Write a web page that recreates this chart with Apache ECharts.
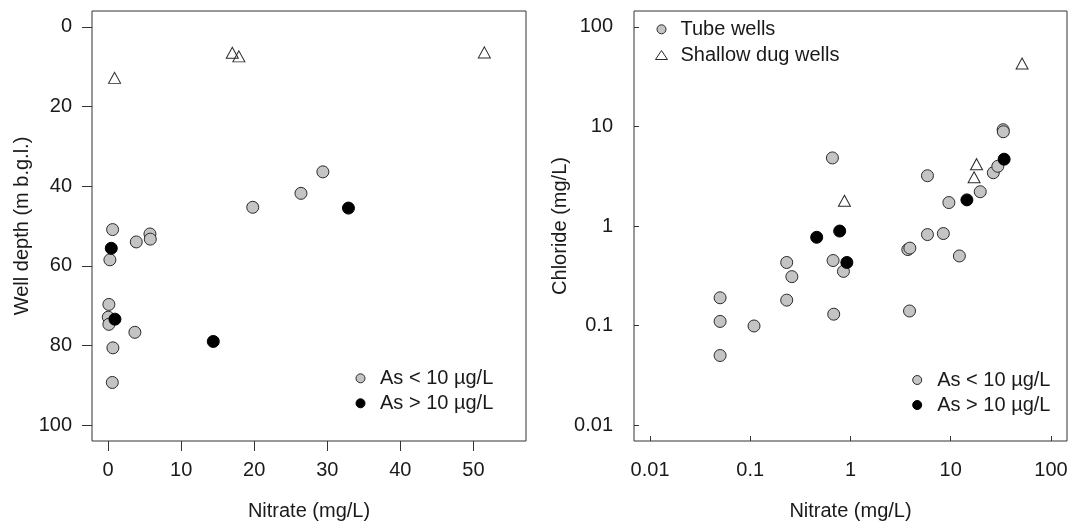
<!DOCTYPE html>
<html>
<head>
<meta charset="utf-8">
<script src="https://cdn.jsdelivr.net/npm/echarts@6/dist/echarts.min.js"></script>
<style>
html,body{margin:0;padding:0;background:#fff;}
#chart{width:1072px;height:523px;}
</style>
</head>
<body>
<div id="chart"></div>
<script>
// ---- Left panel: nitrate vs well depth ----
const leftLowNitrate   = [29.4, 26.4, 19.8, 0.62, 5.73, 5.78, 3.86, 0.25, 0.11, 0.03, 0.11, 3.67, 0.66, 0.58];
const leftLowDepth     = [36.4, 41.8, 45.3, 50.9, 52.0, 53.3, 54.0, 58.5, 69.7, 72.9, 74.7, 76.7, 80.6, 89.3];
const leftHighNitrate  = [32.9, 0.44, 0.94, 14.4];
const leftHighDepth    = [45.5, 55.6, 73.4, 79.0];
const leftDugNitrate   = [0.89, 17.0, 17.9, 51.5];
const leftDugDepth     = [12.8, 6.5, 7.4, 6.4];
const leftXTicks = [0, 10, 20, 30, 40, 50];
const leftYTicks = [0, 20, 40, 60, 80, 100];

// ---- Right panel: nitrate vs chloride (log-log) ----
const rightLowNitrate  = [0.05, 0.05, 0.05, 0.109, 0.231, 0.26, 0.231, 0.66, 0.67, 0.68, 0.85, 3.73, 3.91, 3.88, 5.86, 5.86, 8.44, 9.58, 12.2, 19.7, 26.6, 29.5, 33.3, 33.5];
const rightLowChloride = [0.19, 0.11, 0.05, 0.099, 0.43, 0.31, 0.18, 4.83, 0.45, 0.13, 0.35, 0.58, 0.60, 0.14, 3.2, 0.82, 0.84, 1.72, 0.50, 2.21, 3.43, 3.98, 9.27, 8.85];
const rightHighNitrate = [0.46, 0.78, 0.92, 14.5, 34.1];
const rightHighChloride= [0.77, 0.89, 0.43, 1.83, 4.69];
const rightDugNitrate  = [0.87, 17.1, 18.1, 51.5];
const rightDugChloride = [1.79, 3.09, 4.18, 42.9];
const logTicks = [0.01, 0.1, 1, 10, 100];

const LOW = 'As < 10 µg/L', HIGH = 'As > 10 µg/L', TUBE = 'Tube wells', DUG = 'Shallow dug wells';
const pairs = (a, b) => a.map((v, i) => [v, b[i]]);

const FONT = 'Liberation Sans, Arial, sans-serif';
const TXT = '#1a1a1a';
const greyStyle = {color: '#c4c4c4', borderColor: '#2a2a2a', borderWidth: 1, opacity: 1};
const blackStyle = {color: '#000', borderColor: '#000', borderWidth: 1, opacity: 1};
const triStyle = {color: 'rgba(255,255,255,0)', borderColor: '#2a2a2a', borderWidth: 1, opacity: 1};

const labelStyle = {fontFamily: FONT, fontSize: 20, color: TXT};
const nameStyle = {fontFamily: FONT, fontSize: 20, color: TXT};

function scatter(name, xi, data, style, symbol, size) {
  return {
    type: 'scatter', name, xAxisIndex: xi, yAxisIndex: xi, data,
    symbol, symbolSize: size, itemStyle: style,
    emphasis: {disabled: true}, animation: false
  };
}

const chart = echarts.init(document.getElementById('chart'), null, {renderer: 'canvas'});
chart.setOption({
  backgroundColor: '#fff',
  animation: false,
  grid: [
    {left: 92, top: 11, width: 434, height: 430, show: true, borderColor: '#333', borderWidth: 1, backgroundColor: '#fff', containLabel: false, outerBoundsMode: 'none'},
    {left: 634, top: 11, width: 433, height: 430, show: true, borderColor: '#333', borderWidth: 1, backgroundColor: '#fff', containLabel: false, outerBoundsMode: 'none'}
  ],
  xAxis: [
    {
      gridIndex: 0, type: 'value', min: -2.2, max: 57.2, position: 'bottom',
      name: 'Nitrate (mg/L)', nameLocation: 'middle', nameGap: 60, nameTextStyle: nameStyle,
      axisLine: {show: false, onZero: false},
      axisTick: {show: true, inside: false, length: 10, lineStyle: {color: '#333'}, customValues: leftXTicks},
      axisLabel: Object.assign({margin: 19, customValues: leftXTicks, formatter: v => String(v)}, labelStyle),
      splitLine: {show: false}
    },
    {
      gridIndex: 1, type: 'log', logBase: 10, min: Math.pow(10, -2.16), max: Math.pow(10, 2.16), position: 'bottom',
      name: 'Nitrate (mg/L)', nameLocation: 'middle', nameGap: 60, nameTextStyle: nameStyle,
      axisLine: {show: false, onZero: false},
      axisTick: {show: true, inside: true, length: 5, lineStyle: {color: '#333'}, customValues: logTicks},
      axisLabel: Object.assign({margin: 19, customValues: logTicks, formatter: v => String(+v.toPrecision(3))}, labelStyle),
      splitLine: {show: false}
    }
  ],
  yAxis: [
    {
      gridIndex: 0, type: 'value', inverse: true, min: -4, max: 104, position: 'left',
      name: 'Well depth (m b.g.l.)', nameLocation: 'middle', nameGap: 60, nameTextStyle: nameStyle,
      axisLine: {show: false, onZero: false},
      axisTick: {show: true, inside: false, length: 10, lineStyle: {color: '#333'}, customValues: leftYTicks},
      axisLabel: Object.assign({margin: 20, customValues: leftYTicks, formatter: v => String(v)}, labelStyle),
      splitLine: {show: false}
    },
    {
      gridIndex: 1, type: 'log', logBase: 10, min: Math.pow(10, -2.16), max: Math.pow(10, 2.16), position: 'left',
      name: 'Chloride (mg/L)', nameLocation: 'middle', nameGap: 58, nameTextStyle: nameStyle,
      axisLine: {show: false, onZero: false},
      axisTick: {show: true, inside: true, length: 5, lineStyle: {color: '#333'}, customValues: logTicks},
      axisLabel: Object.assign({margin: 21, customValues: logTicks, formatter: v => String(+v.toPrecision(3))}, labelStyle),
      splitLine: {show: false}
    }
  ],
  legend: [
    {
      orient: 'vertical', left: 355.5, top: 368.3, padding: 0, itemGap: 5,
      itemWidth: 9, itemHeight: 9, selectedMode: false,
      itemStyle: {borderWidth: 1},
      data: [LOW, HIGH],
      textStyle: {fontFamily: FONT, fontSize: 20, color: TXT, lineHeight: 20, padding: [0, 0, 0, 10]}
    },
    {
      orient: 'vertical', left: 912.2, top: 370, padding: 0, itemGap: 5,
      itemWidth: 9, itemHeight: 9, selectedMode: false,
      itemStyle: {borderWidth: 1},
      data: [LOW, HIGH],
      textStyle: {fontFamily: FONT, fontSize: 20, color: TXT, lineHeight: 20, padding: [0, 0, 0, 10.5]}
    },
    {
      orient: 'vertical', left: 655, top: 19.3, padding: 0, itemGap: 5.7,
      itemWidth: 12, itemHeight: 9, selectedMode: false,
      itemStyle: {borderWidth: 1},
      data: [TUBE, DUG],
      textStyle: {fontFamily: FONT, fontSize: 20, color: TXT, lineHeight: 20, padding: [0, 0, 0, 8]}
    }
  ],
  series: [
    scatter(DUG, 0, pairs(leftDugNitrate, leftDugDepth), triStyle, 'triangle', [12, 11]),
    scatter(LOW, 0, pairs(leftLowNitrate, leftLowDepth), greyStyle, 'circle', 12),
    scatter(HIGH, 0, pairs(leftHighNitrate, leftHighDepth), blackStyle, 'circle', 12),
    scatter(TUBE, 1, [], greyStyle, 'circle', 12),
    scatter(DUG, 1, pairs(rightDugNitrate, rightDugChloride), triStyle, 'triangle', [12, 11]),
    scatter(LOW, 1, pairs(rightLowNitrate, rightLowChloride), greyStyle, 'circle', 12),
    scatter(HIGH, 1, pairs(rightHighNitrate, rightHighChloride), blackStyle, 'circle', 12)
  ]
});
</script>
</body>
</html>
